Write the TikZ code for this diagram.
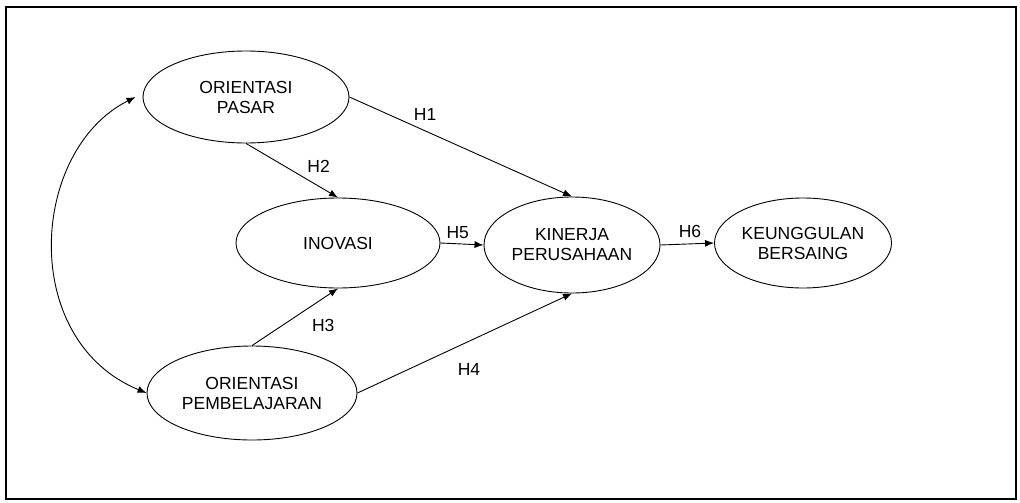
\documentclass[tikz,border=0pt]{standalone}
\usepackage{fontspec}
\setmainfont{Liberation Sans}
\usetikzlibrary{shapes.geometric,arrows.meta}
\tikzset{
  var/.style={draw, ellipse, line width=0.9pt, inner sep=0pt, align=center,
    font=\fontsize{17.5}{20}\selectfont},
  link/.style={draw, line width=0.9pt, -{Latex[length=9pt,width=7pt]}},
  hlab/.style={font=\fontsize{17.5}{20}\selectfont, inner sep=2pt},
}
\begin{document}
\begin{tikzpicture}[x=1pt,y=-1pt]
\useasboundingbox (0,0) rectangle (1020,503);
\draw[line width=1.5pt] (6,7) rectangle (1016,499);
\node[var, minimum width=206, minimum height=92] (op) at (246,97) {ORIENTASI\\PASAR};
\node[var, minimum width=204, minimum height=90] (ino) at (338,243) {INOVASI};
\node[var, minimum width=210, minimum height=94] (pb) at (252,393) {ORIENTASI\\PEMBELAJARAN};
\node[var, minimum width=176, minimum height=96] (kp) at (572,245) {KINERJA\\PERUSAHAAN};
\node[var, minimum width=177, minimum height=90] (kb) at (803,243) {KEUNGGULAN\\BERSAING};
\draw[link] (op.east) -- (kp.north) node[hlab, pos=0.34, above=8pt] {H1};
\draw[link] (op.south) -- (ino.north) node[hlab, pos=0.62, above right=2pt] {H2};
\draw[link] (pb.north) -- (ino.south) node[hlab, pos=0.6, below right=6pt] {H3};
\draw[link] (pb.east) -- (kp.south) node[hlab, pos=0.52, below=20pt] {H4};
\draw[link] (ino.east) -- (kp.west) node[hlab, pos=0.4, above=3pt] {H5};
\draw[link] (kp.east) -- (kb.west) node[hlab, pos=0.55, above=4pt] {H6};
\draw[line width=0.9pt, {Latex[length=9pt,width=7pt]}-{Latex[length=9pt,width=7pt]}]
  (pb.west) .. controls (18,340) and (30,150) .. ([xshift=-7pt]op.west);
\end{tikzpicture}
\end{document}
